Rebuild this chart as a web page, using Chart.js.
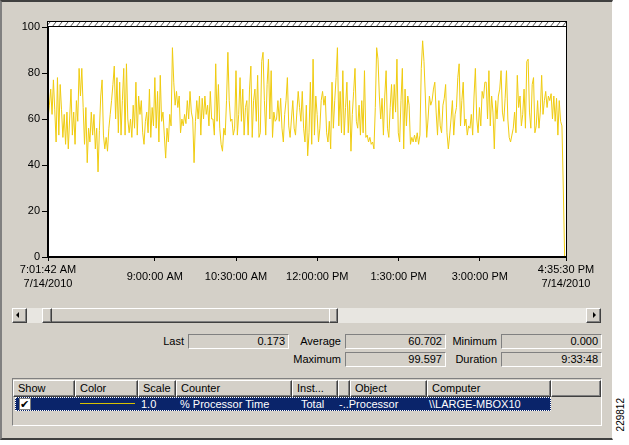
<!DOCTYPE html>
<html>
<head>
<meta charset="utf-8">
<script src="https://cdn.jsdelivr.net/npm/chart.js@4.4.0/dist/chart.umd.min.js"></script>
<style>
  body { margin: 0; width: 629px; height: 445px; overflow: hidden; background: #fff; position: relative;
         font: 11px "Liberation Sans", Arial, sans-serif; color: #000; }
  #win { position: absolute; left: 0; top: 0; width: 610px; height: 436px; background: #d4d0c8;
         border-top: 2px solid #404040; border-left: 2px solid #808080; border-bottom: 2px solid #404040;
         border-right: 1px solid #fff; }
  #chart { position: absolute; left: 0; top: 0; }
  .abs { position: absolute; white-space: nowrap; }
  .lbl { position: absolute; text-align: right; line-height: 15px; }
  .fld { position: absolute; height: 15px; box-sizing: border-box; border: 1px solid;
         border-color: #808080 #fff #fff #808080; text-align: right; padding-right: 3px; line-height: 13px; }
  .raised { box-sizing: border-box; border: 1px solid; border-color: #fff #404040 #404040 #fff;
            box-shadow: inset -1px -1px #808080; background: #d4d0c8; }
  #sb { position: absolute; left: 12px; top: 308px; width: 589px; height: 15px; background: #e8e6e1; }
  #list { position: absolute; left: 12px; top: 378px; width: 590px; height: 48px; box-sizing: border-box;
          border: 1px solid; border-color: #808080 #fff #fff #808080; background: #d4d0c8; }
  .hd { position: absolute; top: 1px; height: 17px; line-height: 15px; padding-left: 4px; }
  #sel { position: absolute; left: 2px; top: 18px; width: 536px; height: 14px; background: #0a246a;
         outline: 1px dotted #fff; outline-offset: -1px; color: #fff; }
</style>
</head>
<body>
<div id="win"></div>
<canvas id="chart" width="612" height="300"></canvas>

<div id="sb">
  <div class="abs raised" style="left:0;top:0;width:15px;height:15px;"></div>
  <div class="abs" style="left:4px;top:4px;width:0;height:0;border-top:3px solid transparent;border-bottom:3px solid transparent;border-right:3px solid #000;"></div>
  <div class="abs raised" style="left:30px;top:0;width:296px;height:15px;"></div>
  <div class="abs raised" style="left:30px;top:0;width:10px;height:15px;"></div>
  <div class="abs raised" style="left:317px;top:0;width:9px;height:15px;"></div>
  <div class="abs raised" style="left:574px;top:0;width:15px;height:15px;"></div>
  <div class="abs" style="left:581px;top:4px;width:0;height:0;border-top:3px solid transparent;border-bottom:3px solid transparent;border-left:3px solid #000;"></div>
</div>

<div id="stats"></div>

<div id="list">
  <div id="hdr"></div>
  <div id="sel">
    <div class="abs" style="left:4px;top:1px;width:12px;height:12px;background:#fff;box-sizing:border-box;border:1px solid #808080;"></div>
    <div class="abs" style="left:5px;top:0px;font-size:11px;color:#000;line-height:14px;">&#10004;</div>
    <div class="abs" style="left:65px;top:6px;width:55px;height:1px;background:#d8c000;"></div>
    <div class="abs" id="rowcells"></div>
  </div>
</div>

<div class="abs" style="left:615px;top:398px;writing-mode:vertical-rl;transform:rotate(180deg);font-size:10px;">229812</div>

<script>
// time axis (seconds since 7:01:42 AM, 7/14/2010)
const durationSec = 34428; // 9:33:48
const tickSecs = [0, 7098, 12498, 17898, 23298, 28698, 34428];
const tickLabels = [
  ['7:01:42 AM', '7/14/2010'],
  '9:00:00 AM',
  '10:30:00 AM',
  '12:00:00 PM',
  '1:30:00 PM',
  '3:00:00 PM',
  ['4:35:30 PM', '7/14/2010']
];
const yTicks = [0, 20, 40, 60, 80, 100];

// % Processor Time, evenly spaced samples
const cpu = [
  60,66,73,62,77,64,50,78,53,75,64,52,62,49,63,47,60,73,53,63,49,68,59,82,70,82,65,49,65,41,
  56,50,63,53,62,47,56,37,55,70,77,53,47,52,46,56,62,68,75,83,60,78,54,76,53,68,82,53,84,
  60,54,60,52,66,56,76,53,70,62,68,54,49,59,63,54,73,52,65,57,78,56,72,50,79,59,63,53,43,56,
  50,62,57,91,76,66,72,65,70,54,60,57,62,58,68,60,72,63,60,41,59,68,60,70,53,69,60,70,62,66,57,72,60,
  60,53,84,59,75,56,49,46,56,53,68,89,68,59,60,53,56,81,53,62,78,59,73,53,65,68,53,73,83,52,
  68,73,59,79,52,54,85,89,68,53,75,86,60,81,52,63,59,60,68,59,69,56,50,62,68,78,57,52,60,68,56,53,63,72,65,59,
  72,56,50,66,44,54,76,49,86,53,70,62,50,56,68,72,66,70,54,50,59,47,76,56,68,78,91,57,72,54,
  81,53,65,76,54,68,46,62,72,82,59,56,66,53,68,54,81,52,53,50,52,49,50,47,65,91,86,70,60,69,53,70,81,56,52,65,75,60,
  75,63,86,54,50,68,82,47,73,57,70,66,49,52,50,53,50,54,49,53,82,94,85,70,52,60,70,66,68,73,
  76,63,53,68,57,54,66,69,75,54,47,53,60,68,53,62,65,78,84,57,68,76,57,60,53,57,56,62,53,70,82,60,54,65,57,72,69,76,
  76,60,81,57,70,63,47,68,60,70,73,81,63,59,69,81,60,52,50,53,56,63,54,79,65,70,57,62,73,56,
  85,86,63,56,75,78,54,57,68,56,63,79,62,68,72,65,70,68,71,60,70,59,69,53,68,59,57,30,0,0.173
];

const statLabels = ['Last', 'Average', 'Minimum', 'Maximum', 'Duration'];
const statValues = ['0.173', '60.702', '0.000', '99.597', '9:33:48'];

const colNames = ['Show', 'Color', 'Scale', 'Counter', 'Inst...', '', 'Object', 'Computer', ''];
const colWidths = [62, 63, 38, 116, 46, 12, 77, 124, 50];
const rowTexts = ['1.0', '% Processor Time', 'Total', '-..Processor', '\\\\LARGE-MBOX10'];
const rowLefts = [141, 180, 301, 339, 429];

// ---- stats fields
const statPos = [
  { lx: 140, fx: 188, y: 334 }, { lx: 280, fx: 345, y: 334 }, { lx: 440, fx: 501, y: 334 },
  { lx: 280, fx: 345, y: 352 }, { lx: 440, fx: 501, y: 352 }
];
const statsDiv = document.getElementById('stats');
statLabels.forEach((l, i) => {
  const p = statPos[i];
  const lab = document.createElement('div');
  lab.className = 'lbl';
  lab.style.cssText = `left:${p.lx}px;top:${p.y}px;width:${p.fx - p.lx - 4}px;`;
  lab.textContent = l;
  statsDiv.appendChild(lab);
  const f = document.createElement('div');
  f.className = 'fld';
  f.style.cssText = `left:${p.fx}px;top:${p.y}px;width:101px;`;
  f.textContent = statValues[i];
  statsDiv.appendChild(f);
});

// ---- list header / row
const hdr = document.getElementById('hdr');
let cx = 0;
colNames.forEach((n, i) => {
  const d = document.createElement('div');
  d.className = 'hd raised';
  d.style.left = cx + 'px';
  d.style.width = colWidths[i] + 'px';
  d.textContent = n;
  hdr.appendChild(d);
  cx += colWidths[i];
});
const rowcells = document.getElementById('rowcells');
rowTexts.forEach((t, i) => {
  const d = document.createElement('div');
  d.className = 'abs';
  d.style.cssText = `left:${rowLefts[i] - 15}px;top:0;line-height:14px;color:#fff;`;
  d.textContent = t;
  rowcells.appendChild(d);
});

// ---- chart
const FONT = { family: '"Liberation Sans", Arial, sans-serif', size: 11, lineHeight: 1.25 };

const framePlugin = {
  id: 'frame',
  beforeDraw(chart) {
    const { ctx, chartArea: a } = chart;
    ctx.save();
    ctx.fillStyle = '#fff';
    ctx.fillRect(a.left, a.top - 5, a.right - a.left, a.bottom - a.top + 5);
    ctx.restore();
  },
  afterDraw(chart) {
    const { ctx, chartArea: a } = chart;
    ctx.save();
    // hatched strip above the plot
    ctx.beginPath();
    ctx.rect(a.left, a.top - 5, a.right - a.left, 5);
    ctx.clip();
    ctx.strokeStyle = '#555';
    ctx.lineWidth = 1;
    for (let x = a.left; x < a.right + 6; x += 6) {
      ctx.beginPath();
      ctx.moveTo(x - 2, a.top);
      ctx.lineTo(x + 2, a.top - 5);
      ctx.stroke();
    }
    ctx.restore();
    ctx.save();
    ctx.strokeStyle = '#000';
    ctx.lineWidth = 1;
    ctx.strokeRect(Math.round(a.left) - 0.5, Math.round(a.top) - 5.5, Math.round(a.right - a.left) + 1, Math.round(a.bottom - a.top) + 6);
    ctx.beginPath();
    ctx.moveTo(a.left, Math.round(a.top) - 0.5);
    ctx.lineTo(a.right, Math.round(a.top) - 0.5);
    ctx.stroke();
    // thicker left/bottom axis
    ctx.fillStyle = '#000';
    ctx.fillRect(Math.round(a.left) - 1, Math.round(a.top), 2, Math.round(a.bottom - a.top) + 1);
    ctx.fillRect(Math.round(a.left) - 1, Math.round(a.bottom) - 1, Math.round(a.right - a.left) + 2, 2);
    ctx.restore();
  }
};

const step = durationSec / (cpu.length - 1);
const points = cpu.map((v, i) => ({ x: i * step, y: v }));

new Chart(document.getElementById('chart').getContext('2d'), {
  type: 'line',
  data: {
    datasets: [{
      data: points,
      borderColor: '#f0cc10',
      borderWidth: 1,
      pointRadius: 0,
      tension: 0,
      fill: false
    }]
  },
  options: {
    responsive: false,
    animation: false,
    devicePixelRatio: 1,
    layout: { padding: { top: 27, right: 46, left: 0, bottom: 0 } },
    plugins: { legend: { display: false }, tooltip: { enabled: false } },
    scales: {
      x: {
        type: 'linear',
        min: 0,
        max: durationSec,
        afterBuildTicks: s => { s.ticks = tickSecs.map(v => ({ value: v })); },
        afterFit: s => { s.height = 43; },
        grid: { drawOnChartArea: false, drawTicks: true, tickLength: 4, tickWidth: 1, tickColor: '#000', color: '#000' },
        border: { display: false },
        ticks: {
          autoSkip: false, maxRotation: 0, minRotation: 0, crossAlign: 'center',
          padding: 9, color: '#000', font: FONT,
          callback: (v, i) => tickLabels[i]
        }
      },
      y: {
        min: 0,
        max: 100,
        afterBuildTicks: s => { s.ticks = yTicks.map(v => ({ value: v })); },
        afterFit: s => { s.width = 48; },
        grid: { drawOnChartArea: false, drawTicks: true, tickLength: 6, tickWidth: 1, tickColor: '#000', color: '#000' },
        border: { display: false },
        ticks: { padding: 2, color: '#000', font: FONT }
      }
    }
  },
  plugins: [framePlugin]
});
</script>
</body>
</html>
